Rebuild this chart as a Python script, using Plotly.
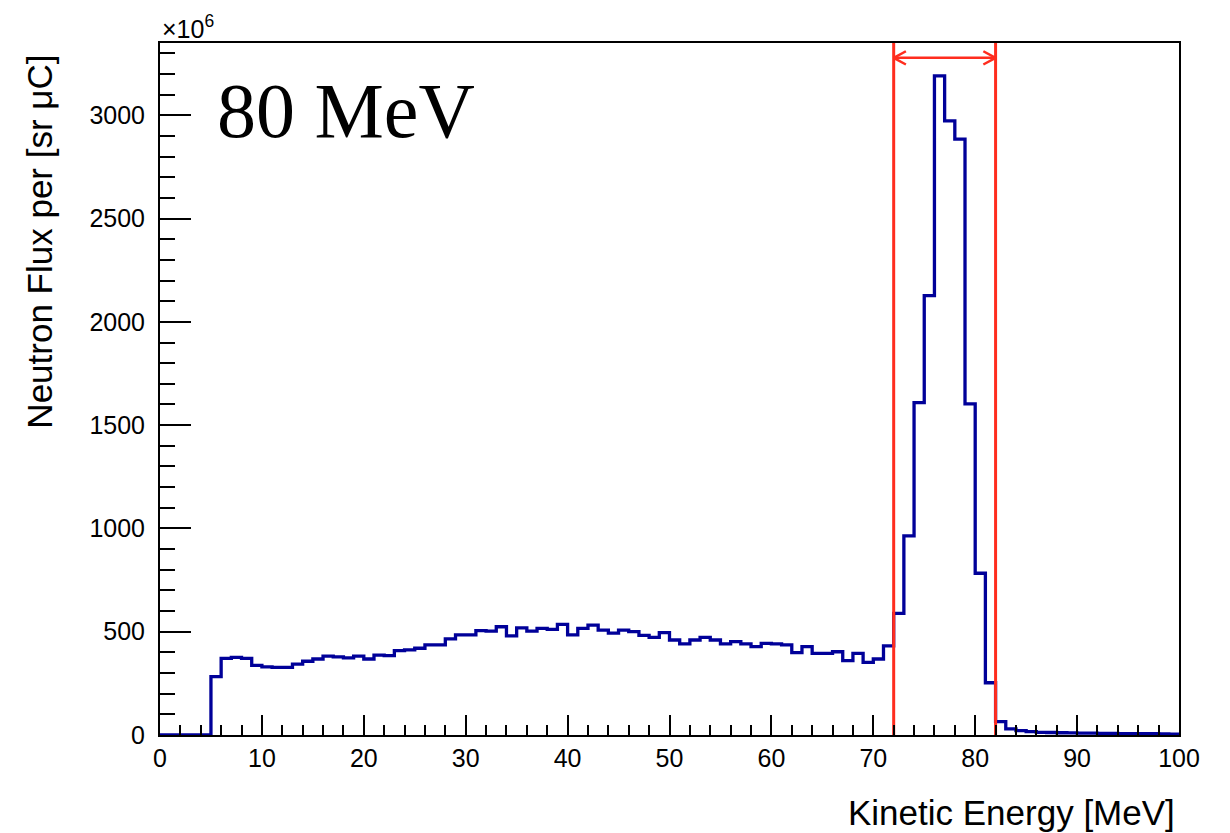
import plotly.graph_objects as go

# ---- data ----
bin_edges = list(range(0, 101))  # 1 MeV bins, 0..100 MeV
flux = [0, 0, 0, 0, 0, 283, 371, 376, 371, 337,
        330, 327, 327, 343, 357, 368, 382, 378, 373, 382,
        368, 387, 384, 408, 412, 420, 436, 436, 465, 485,
        485, 505, 503, 524, 480, 519, 503, 516, 511, 536,
        485, 516, 532, 508, 493, 508, 500, 482, 473, 496,
        460, 441, 460, 473, 460, 441, 452, 441, 428, 444,
        441, 436, 399, 428, 395, 395, 403, 360, 395, 352,
        368, 431, 589, 964, 1609, 2127, 3191, 2973, 2885, 1603,
        783, 253, 65, 30, 21, 16, 13, 12, 11, 10,
        9, 9, 8, 8, 7, 7, 6, 6, 5, 4]
cut_low = 72
cut_high = 82
arrow_level = 3278
y_max = 3350
x_ticks = [0, 10, 20, 30, 40, 50, 60, 70, 80, 90, 100]
y_ticks = [0, 500, 1000, 1500, 2000, 2500, 3000]
label_text = "80 MeV"
x_title = "Kinetic Energy [MeV]"
y_title = "Neutron Flux per [sr μC]"

# ---- styles ----
BLUE = "#000099"
RED = "#ff2d1e"
SANS = "Liberation Sans, Arial, Helvetica, sans-serif"
SERIF = "Liberation Serif, Times New Roman, serif"

fig = go.Figure()

# histogram drawn as steps
fig.add_trace(go.Scatter(
    x=bin_edges,
    y=flux + [flux[-1]],
    mode="lines",
    line=dict(color=BLUE, width=3.3, shape="hv"),
    cliponaxis=False,
    hoverinfo="skip",
    showlegend=False,
))

# red cut lines
for xc in (cut_low, cut_high):
    fig.add_trace(go.Scatter(
        x=[xc, xc], y=[0, y_max],
        mode="lines", line=dict(color=RED, width=3),
        hoverinfo="skip", showlegend=False, cliponaxis=False,
    ))

# double-headed arrow between the cut lines
head_dx = 1.2   # MeV
head_dy = 32    # y units
fig.add_trace(go.Scatter(
    x=[cut_low, cut_high], y=[arrow_level, arrow_level],
    mode="lines", line=dict(color=RED, width=2.5),
    hoverinfo="skip", showlegend=False,
))
fig.add_trace(go.Scatter(
    x=[cut_low + head_dx, cut_low, cut_low + head_dx],
    y=[arrow_level + head_dy, arrow_level, arrow_level - head_dy],
    mode="lines", line=dict(color=RED, width=2.5),
    hoverinfo="skip", showlegend=False,
))
fig.add_trace(go.Scatter(
    x=[cut_high - head_dx, cut_high, cut_high - head_dx],
    y=[arrow_level + head_dy, arrow_level, arrow_level - head_dy],
    mode="lines", line=dict(color=RED, width=2.5),
    hoverinfo="skip", showlegend=False,
))

axis_common = dict(
    showgrid=False, zeroline=False,
    showline=True, linecolor="black", linewidth=2, mirror=True,
    ticks="inside", tickcolor="black", tickwidth=2,
    tickfont=dict(family=SANS, size=25, color="black"),
)

fig.update_xaxes(
    range=[0, 100], tickvals=x_ticks, ticklen=20,
    minor=dict(dtick=2, ticks="inside", ticklen=10, tickcolor="black", tickwidth=2, showgrid=False),
    ticklabelstandoff=0,
    **axis_common,
)
fig.update_yaxes(
    range=[0, y_max], tickvals=y_ticks, ticklen=31,
    minor=dict(dtick=100, ticks="inside", ticklen=15, tickcolor="black", tickwidth=2, showgrid=False),
    ticklabelstandoff=8,
    **axis_common,
)

fig.update_layout(
    width=1230, height=833,
    margin=dict(l=160, r=51, t=43, b=98),
    paper_bgcolor="white", plot_bgcolor="white",
    showlegend=False,
    annotations=[
        dict(text=label_text, xref="paper", yref="paper", x=0.054, y=0.903,
             xanchor="left", yanchor="middle", showarrow=False,
             font=dict(family=SERIF, size=78, color="black")),
        dict(text="×10<sup>6</sup>", xref="paper", yref="paper", x=0.0, y=1.0,
             xanchor="left", yanchor="bottom", yshift=-2, showarrow=False,
             font=dict(family=SANS, size=25, color="black")),
        dict(text=x_title, xref="paper", yref="paper", x=0.998, y=-0.1164,
             xanchor="right", yanchor="middle", yshift=3, showarrow=False,
             font=dict(family=SANS, size=35, color="black")),
        dict(text=y_title, xref="paper", yref="paper", x=-0.1178, y=0.986,
             xanchor="center", yanchor="top", textangle=-90, showarrow=False,
             font=dict(family=SANS, size=35, color="black")),
    ],
)

fig.write_html(
    "out.html",
    config={"displayModeBar": False},
    post_script="document.body.style.margin='0';document.body.style.overflow='hidden';",
)
